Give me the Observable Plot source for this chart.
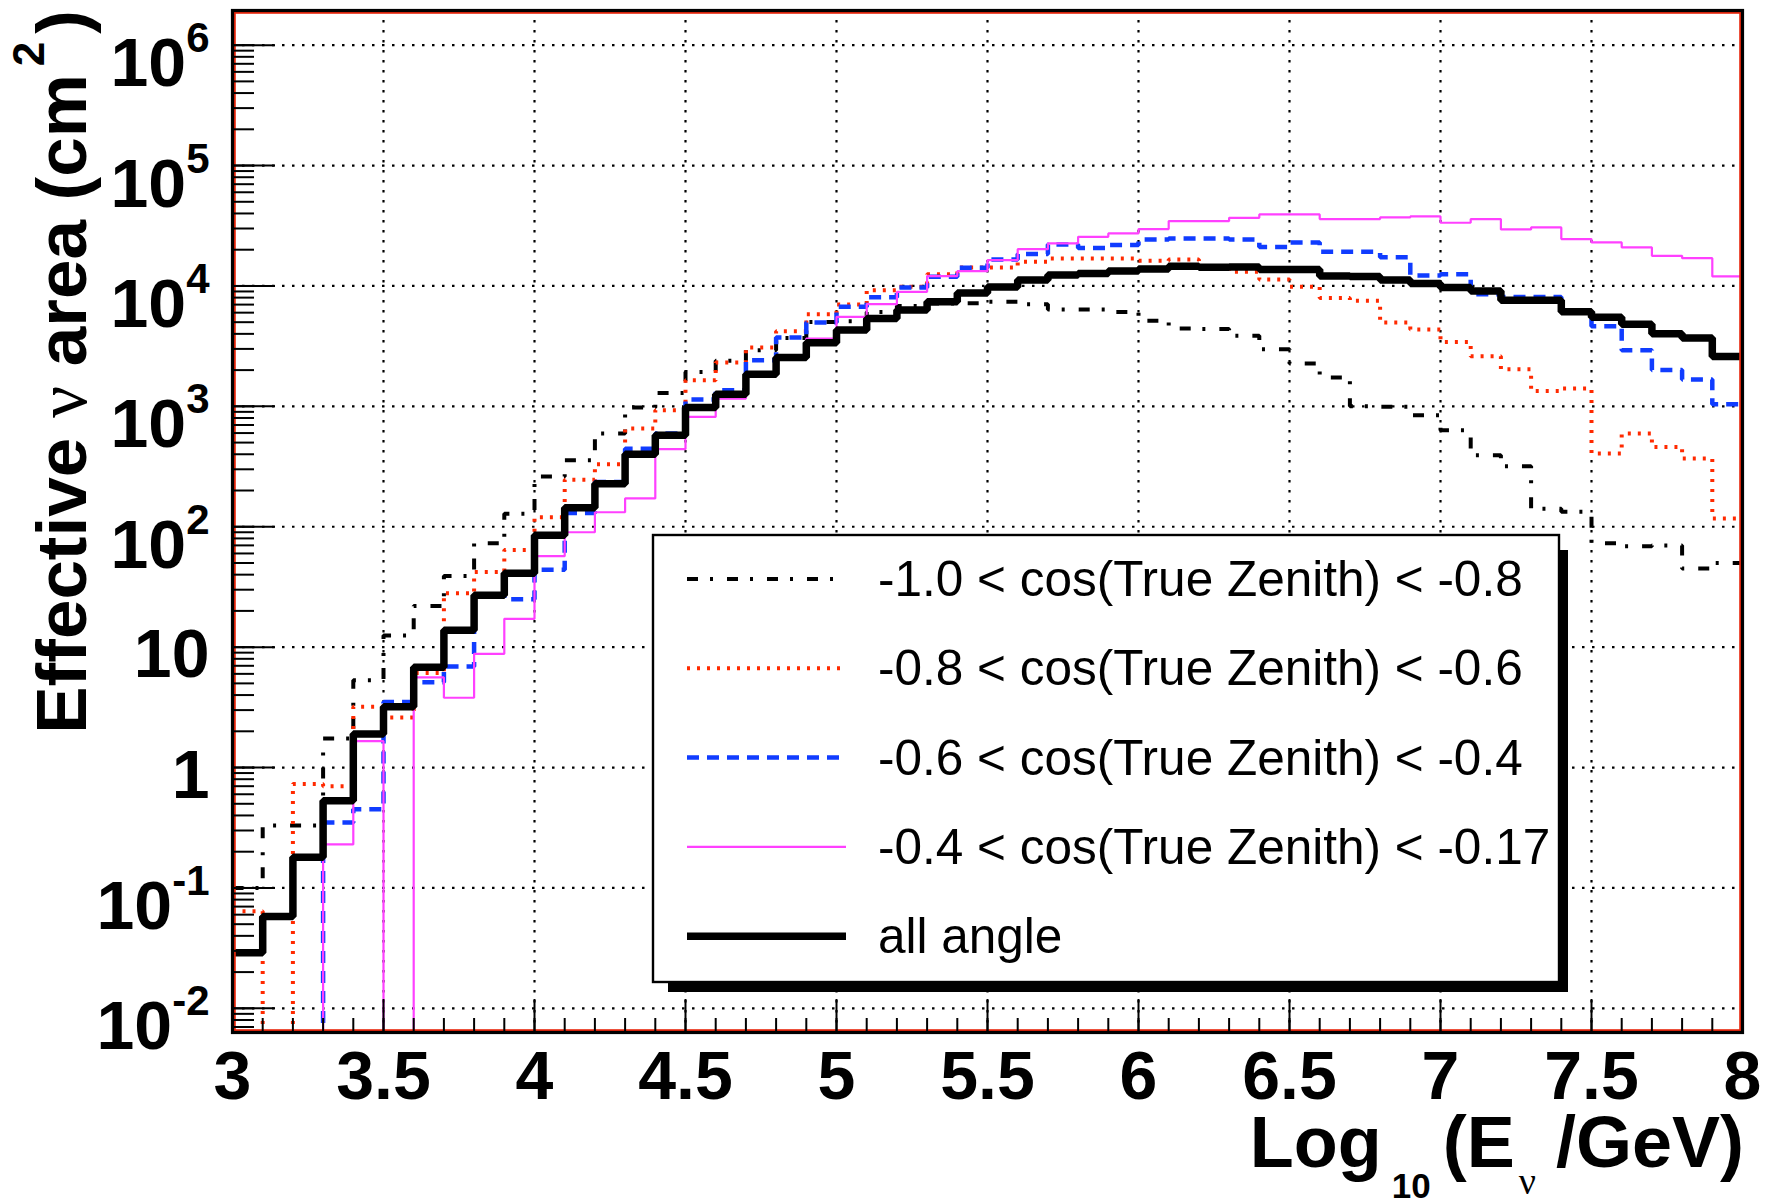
<!DOCTYPE html>
<html>
<head>
<meta charset="utf-8">
<script src="https://cdn.jsdelivr.net/npm/d3@7"></script>
<script src="https://cdn.jsdelivr.net/npm/@observablehq/plot@0.6"></script>
<style>
  html, body { margin: 0; padding: 0; background: #fff; }
  svg { display: block; }
</style>
</head>
<body>
<div id="chart"></div>
<script>
// ---------------- data ----------------
const binEdges = [3.0,3.1,3.2,3.3,3.4,3.5,3.6,3.7,3.8,3.9,4.0,4.1,4.2,4.3,4.4,4.5,4.6,4.7,4.8,4.9,
                  5.0,5.1,5.2,5.3,5.4,5.5,5.6,5.7,5.8,5.9,6.0,6.1,6.2,6.3,6.4,6.5,6.6,6.7,6.8,6.9,
                  7.0,7.1,7.2,7.3,7.4,7.5,7.6,7.7,7.8,7.9,8.0];

const cosM10toM08 = [0.1, 0.33, 0.33, 1.74, 5.3, 12.5, 22, 39, 73, 128,
                     262, 356, 594, 977, 1290, 1930, 2390, 2930, 3700, 5030,
                     5100, 6090, 6800, 7150, 7200, 7380, 7060, 6370, 6370, 6090,
                     5130, 4430, 4400, 3850, 2980, 2270, 1740, 1000, 990, 844,
                     633, 392, 318, 141, 133, 73, 69, 70, 45, 50];

const cosM08toM06 = [0.064, 0, 0.73, 0.70, 3.2, 2.6, 6.1, 28, 42, 64,
                     120, 246, 330, 654, 929, 1650, 2310, 3080, 4210, 5830,
                     7020, 9230, 9840, 12500, 14250, 14200, 15900, 16900, 16900, 16900,
                     16200, 16600, 14300, 13100, 11300, 9840, 7960, 7520, 4970, 4350,
                     3430, 2610, 2030, 1340, 1410, 405, 594, 460, 368, 117];

const cosM06toM04 = [0, 0, 0, 0.35, 0.45, 3.5, 5.1, 6.9, 27, 25,
                     44, 130, 235, 445, 595, 1140, 1360, 2420, 3730, 4970,
                     6710, 8070, 9710, 11900, 14150, 16600, 18400, 22100, 20700, 21900,
                     24300, 24800, 24800, 24300, 21100, 23000, 19200, 19200, 17300, 12200,
                     12500, 8550, 8100, 8100, 6100, 4630, 2930, 2000, 1670, 1040];

const cosM04toM017 = [0, 0, 0, 0.23, 1.66, 0, 5.6, 3.8, 8.8, 17.2,
                      57, 90, 132, 172, 442, 817, 1160, 1850, 2600, 3660,
                      5540, 7060, 8940, 12070, 13270, 16400, 20200, 22600, 25600, 27300,
                      29700, 34600, 34600, 36800, 39300, 39300, 35900, 35900, 37100, 37800,
                      33500, 35900, 29500, 30600, 24500, 23000, 20900, 17800, 17000, 12000];

const allAngle = [0.029, 0.058, 0.18, 0.53, 1.9, 3.2, 6.8, 13.8, 27, 41,
                  85, 144, 228, 400, 575, 980, 1260, 1850, 2540, 3370,
                  4300, 5370, 6300, 7400, 8750, 9800, 11200, 12300, 12700, 13300,
                  13800, 14600, 14300, 14400, 13700, 13700, 12100, 12000, 11200, 10500,
                  9700, 9100, 7600, 7600, 6100, 5500, 4800, 4000, 3700, 2600];

const seriesNames = ["-1.0 < cos(True Zenith) < -0.8",
                     "-0.8 < cos(True Zenith) < -0.6",
                     "-0.6 < cos(True Zenith) < -0.4",
                     "-0.4 < cos(True Zenith) < -0.17",
                     "all angle"];

const xTickValues = [3, 3.5, 4, 4.5, 5, 5.5, 6, 6.5, 7, 7.5, 8];
const xTickLabels = ["3", "3.5", "4", "4.5", "5", "5.5", "6", "6.5", "7", "7.5", "8"];
const xGridValues = [3.5, 4, 4.5, 5, 5.5, 6, 6.5, 7, 7.5];
const yTickValues = [1e-2, 1e-1, 1, 10, 1e2, 1e3, 1e4, 1e5, 1e6];
const yTickLabels = ["10^-2", "10^-1", "1", "10", "10^2", "10^3", "10^4", "10^5", "10^6"];

const xDomain = [3, 8];
const yDomain = [0.0063, 1.94e6];

// ---------------- layout ----------------
const W = 1774, H = 1204;
const mL = 232, mR = 32, mT = 10, mB = 172;
const plotW = W - mL - mR, plotH = H - mT - mB;
const FONT = "'Liberation Sans', Arial, Helvetica, sans-serif";

const styles = [
  {values: cosM10toM08, stroke: "#000000", width: 4,   dash: "11 12 3 14"},
  {values: cosM08toM06, stroke: "#ff2a00", width: 4,   dash: "3 7"},
  {values: cosM06toM04, stroke: "#103cff", width: 4.5, dash: "12 8"},
  {values: cosM04toM017, stroke: "#ff40ff", width: 2.2, dash: null},
  {values: allAngle,    stroke: "#000000", width: 7.5, dash: null}
];

function rowsOf(values) {
  return binEdges.map((x, i) => ({x, y: Math.max(values[Math.min(i, values.length - 1)], yDomain[0])}));
}

const yMinor = d3.scaleLog().domain(yDomain).ticks().filter(v => v >= yDomain[0] && v <= yDomain[1]);

const plainIdx = yTickLabels.map((l, i) => l.includes("^") ? -1 : i).filter(i => i >= 0);
const expIdx = yTickLabels.map((l, i) => l.includes("^") ? i : -1).filter(i => i >= 0);

const gridStyle = {stroke: "#000", strokeWidth: 2.2, strokeDasharray: "2.5 7.5"};

const plot = Plot.plot({
  width: W, height: H,
  marginLeft: mL, marginRight: mR, marginTop: mT, marginBottom: mB,
  x: {domain: xDomain, axis: null},
  y: {type: "log", domain: yDomain, axis: null},
  style: {fontFamily: FONT, background: "#fff", color: "#000"},
  marks: [
    Plot.ruleX(xGridValues, gridStyle),
    Plot.ruleY(yTickValues, gridStyle),
    ...styles.map(s => Plot.line(rowsOf(s.values), {
      x: "x", y: "y", curve: "step-after",
      stroke: s.stroke, strokeWidth: s.width, strokeDasharray: s.dash,
      strokeLinejoin: "miter", strokeLinecap: "butt", clip: true
    })),
    Plot.frame({stroke: "#e8260c", strokeWidth: 1.8, inset: 2.4}),
    Plot.frame({stroke: "#000", strokeWidth: 3.2}),
    Plot.tickY(yMinor, {stroke: "#000", strokeWidth: 2, insetRight: plotW - 22}),
    Plot.tickY(yTickValues, {stroke: "#000", strokeWidth: 2, insetRight: plotW - 43}),
    Plot.tickX(binEdges, {stroke: "#000", strokeWidth: 2, insetTop: plotH - 14}),
    Plot.tickX(xTickValues, {stroke: "#000", strokeWidth: 2, insetTop: plotH - 33}),
    Plot.text(plainIdx, {y: i => yTickValues[i], text: i => yTickLabels[i], frameAnchor: "left",
      textAnchor: "end", lineAnchor: "bottom", dx: -23, dy: 30, fontSize: 68, fontWeight: "bold", fill: "#000"}),
    Plot.text(expIdx, {y: i => yTickValues[i], text: i => yTickLabels[i], frameAnchor: "left",
      textAnchor: "end", lineAnchor: "bottom", dx: -23, dy: 41, fontSize: 68, fontWeight: "bold", fill: "#000"}),
    Plot.text(xTickValues, {x: d => d, text: (d, i) => xTickLabels[i], frameAnchor: "bottom",
      lineAnchor: "top", dy: 18, fontSize: 68, fontWeight: "bold", fill: "#000"})
  ]
});

document.getElementById("chart").appendChild(plot);
const svg = d3.select(plot);

// superscripts on y tick labels
svg.selectAll("text").each(function() {
  const s = this.textContent;
  if (s.includes("^")) {
    const [b, e] = s.split("^");
    this.textContent = "";
    const t = d3.select(this);
    t.append("tspan").text(b);
    t.append("tspan").attr("dy", -34).attr("font-size", 42).text(e);
  }
});

// axis titles
const xs = plot.scale("x");
const xRight = xs.apply(xDomain[1]);
const xt = svg.append("text")
  .attr("x", xRight + 2).attr("y", 1167)
  .attr("text-anchor", "end").attr("font-weight", "bold").attr("font-size", 72)
  .attr("font-family", FONT).attr("fill", "#000");
xt.append("tspan").text("Log");
xt.append("tspan").attr("font-size", 35).attr("dy", 31).attr("dx", 10).text("10");
xt.append("tspan").attr("dy", -31).attr("dx", 12).text("(E");
xt.append("tspan").attr("font-size", 38).attr("dy", 27).attr("dx", 4)
  .attr("font-family", "'Liberation Serif', serif").attr("font-weight", "normal").text("ν");
xt.append("tspan").attr("dy", -27).text(" /GeV)");

const yt = svg.append("text")
  .attr("transform", `translate(86, 10) rotate(-90)`)
  .attr("text-anchor", "end").attr("font-weight", "bold").attr("font-size", 71)
  .attr("font-family", FONT).attr("fill", "#000");
yt.append("tspan").text("Effective ");
yt.append("tspan").attr("font-family", "'Liberation Serif', serif").attr("font-weight", "normal").text("ν");
yt.append("tspan").text(" area (cm");
yt.append("tspan").attr("font-size", 44).attr("dy", -42).attr("dx", 8).text("2");
yt.append("tspan").attr("dy", 42).attr("dx", 8).text(")");

// legend
const lgX = 653, lgY = 535, lgW = 906, lgH = 447;
const lg = svg.append("g");
lg.append("rect").attr("x", lgX + 15).attr("y", lgY + 15).attr("width", lgW - 6).attr("height", lgH - 5).attr("fill", "#000");
lg.append("rect").attr("x", lgX).attr("y", lgY).attr("width", lgW).attr("height", lgH)
  .attr("fill", "#fff").attr("stroke", "#000").attr("stroke-width", 2.4);
styles.forEach((s, i) => {
  const cy = 579 + i * 89.3;
  lg.append("line").attr("x1", 687).attr("x2", 846).attr("y1", cy).attr("y2", cy)
    .attr("stroke", s.stroke).attr("stroke-width", s.width)
    .attr("stroke-dasharray", s.dash).attr("stroke-linecap", "butt");
  lg.append("text").attr("x", 878).attr("y", cy + 17)
    .attr("text-anchor", "start")
    .attr("font-size", 49.5).attr("font-family", FONT).attr("fill", "#000")
    .text(seriesNames[i]);
});
</script>
</body>
</html>
